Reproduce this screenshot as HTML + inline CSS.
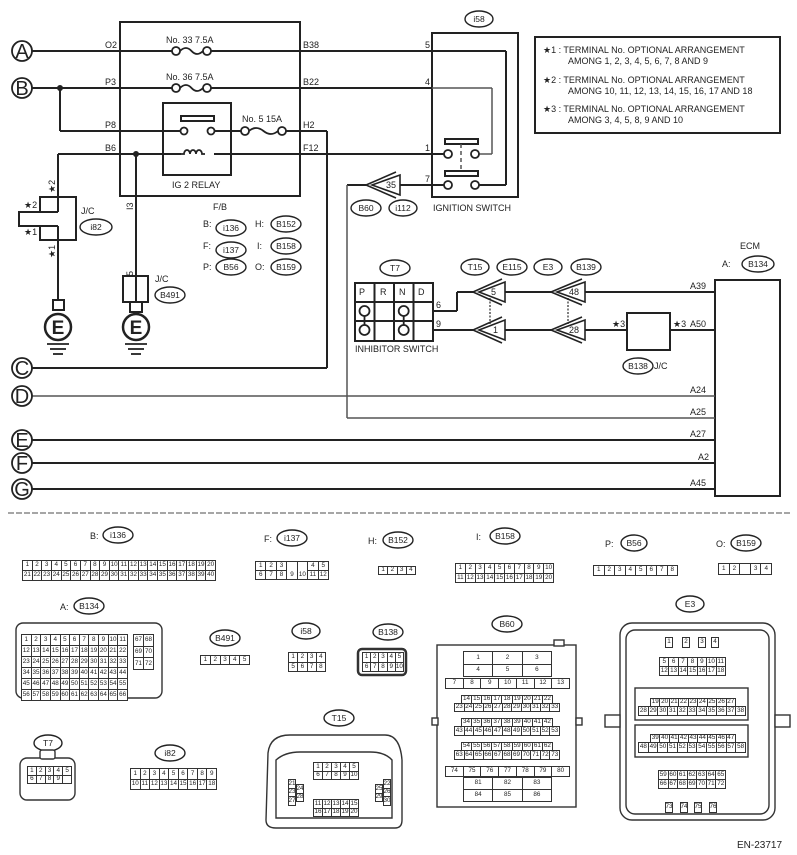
<!DOCTYPE html>
<html><head><meta charset="utf-8"><style>
body{margin:0;background:#fff}
#w{position:relative;width:797px;height:855px;overflow:hidden;font-family:"Liberation Sans",sans-serif;color:#222}
svg{position:absolute;left:0;top:0}
.g{position:absolute;display:grid;grid-auto-rows:1fr;border-left:1px solid #333;border-top:1px solid #333;box-sizing:border-box;background:#fff}
.g b{border-right:1px solid #333;border-bottom:1px solid #333;font-weight:normal;font-size:6.3px;display:flex;align-items:center;justify-content:center;overflow:hidden;line-height:1}
.t{position:absolute;font-size:9px}
</style></head><body><div id="w">
<svg width="797" height="855" viewBox="0 0 797 855" font-family="Liberation Sans, sans-serif" font-size="9" fill="#222">
<g stroke="#222" stroke-width="2" fill="none">
<line x1="32" y1="51" x2="172" y2="51"/><line x1="211" y1="51" x2="506" y2="51"/><line x1="506" y1="51" x2="506" y2="185"/><line x1="479" y1="185" x2="506" y2="185"/>
<line x1="32" y1="88" x2="172" y2="88"/><line x1="211" y1="88" x2="432" y2="88"/>
<line x1="60" y1="88" x2="60" y2="131"/><line x1="60" y1="131" x2="180" y2="131"/>
<line x1="215" y1="131" x2="241" y2="131"/><line x1="286" y1="131" x2="327" y2="131"/><line x1="327" y1="131" x2="327" y2="368"/><line x1="32" y1="368" x2="327" y2="368"/>
<line x1="58" y1="154" x2="181" y2="154"/><line x1="214" y1="154" x2="444" y2="154"/>
<line x1="58" y1="154" x2="58" y2="197"/><line x1="58" y1="240" x2="58" y2="300"/>
<line x1="136" y1="154" x2="136" y2="302"/>
<line x1="347" y1="185" x2="366" y2="185"/><line x1="400" y1="185" x2="444" y2="185"/>
<rect x="120" y="22" width="180" height="174"/>
<rect x="163" y="103" width="68" height="72"/>
<rect x="181" y="116" width="33" height="5"/>
<rect x="432" y="33" width="86" height="164"/>
<rect x="445" y="139" width="33" height="5"/><rect x="445" y="171" width="33" height="5"/>
<rect x="535" y="37" width="245" height="96"/>
<rect x="715" y="280" width="65" height="216"/>
<line x1="715" y1="292" x2="585" y2="292"/><line x1="553" y1="292" x2="505" y2="292"/>
<line x1="475" y1="292" x2="457" y2="292"/><line x1="457" y1="292" x2="457" y2="311"/><line x1="457" y1="311" x2="433" y2="311"/>
<line x1="715" y1="330" x2="670" y2="330"/><line x1="627" y1="330" x2="585" y2="330"/><line x1="553" y1="330" x2="505" y2="330"/><line x1="475" y1="330" x2="433" y2="330"/>
<rect x="627" y="313" width="43" height="37"/>
<line x1="32" y1="440" x2="715" y2="440"/><line x1="32" y1="463" x2="715" y2="463"/><line x1="32" y1="489" x2="715" y2="489"/>
<rect x="355" y="283" width="78" height="58"/>
<line x1="355" y1="302" x2="433" y2="302"/><line x1="355" y1="321" x2="433" y2="321"/>
<line x1="374.5" y1="283" x2="374.5" y2="341"/><line x1="394" y1="283" x2="394" y2="341"/><line x1="413.5" y1="283" x2="413.5" y2="341"/>
<path d="M40 197H76V240H40V226H19V212H40Z"/><line x1="40" y1="212" x2="58" y2="212"/><line x1="40" y1="226" x2="58" y2="226"/><line x1="58" y1="197" x2="58" y2="212"/><line x1="58" y1="226" x2="58" y2="240"/>
<rect x="53" y="300" width="11" height="10"/>
<rect x="123" y="276" width="25" height="26"/><rect x="130" y="302" width="12" height="10"/>
</g>
<g stroke="#555" stroke-width="1.5" fill="none">
<line x1="432" y1="88" x2="492" y2="88"/><line x1="492" y1="88" x2="492" y2="154"/><line x1="479" y1="154" x2="492" y2="154"/>
<line x1="347" y1="185" x2="347" y2="418"/><line x1="347" y1="418" x2="715" y2="418"/>
<line x1="32" y1="396" x2="715" y2="396"/>
<line x1="461" y1="144" x2="461" y2="171" stroke-dasharray="4,3"/>
<line x1="490" y1="298" x2="490" y2="324" stroke-dasharray="2,1.5"/><line x1="568" y1="298" x2="568" y2="324" stroke-dasharray="2,1.5"/>
<line x1="8" y1="513" x2="790" y2="513" stroke="#888" stroke-width="1.5" stroke-dasharray="6,2"/>
</g>
<g stroke="#222" stroke-width="1.8" fill="#fff">
<circle cx="176" cy="51" r="4"/><circle cx="207" cy="51" r="4"/><path d="M180 51Q186 45 191.5 51T203 51" fill="none"/>
<circle cx="176" cy="88" r="4"/><circle cx="207" cy="88" r="4"/><path d="M180 88Q186 82 191.5 88T203 88" fill="none"/>
<circle cx="245" cy="131" r="4"/><circle cx="282" cy="131" r="4"/><path d="M249 131Q256 125 263.5 131T278 131" fill="none"/>
<circle cx="184" cy="131" r="3.5"/><circle cx="211" cy="131" r="3.5"/>
<path d="M181 154h3a3 4 0 0 1 6 0a3 4 0 0 1 6 0a3 4 0 0 1 6 0h3" fill="none"/>
<circle cx="448" cy="154" r="4"/><circle cx="475" cy="154" r="4"/><circle cx="448" cy="185" r="4"/><circle cx="475" cy="185" r="4"/>
<circle cx="364.5" cy="311" r="5"/><circle cx="364.5" cy="330" r="5"/><circle cx="403.7" cy="311" r="5"/><circle cx="403.7" cy="330" r="5"/>
<circle cx="22" cy="51" r="10"/><circle cx="22" cy="88" r="10"/><circle cx="22" cy="368" r="10"/><circle cx="22" cy="396" r="10"/><circle cx="22" cy="440" r="10"/><circle cx="22" cy="463" r="10"/><circle cx="22" cy="489" r="10"/>
<circle cx="58" cy="327" r="13" stroke-width="2.5"/><circle cx="136" cy="327" r="13" stroke-width="2.5"/>
</g>
<g stroke="#222" stroke-width="1.8"><line x1="364.5" y1="316" x2="364.5" y2="325"/><line x1="403.7" y1="316" x2="403.7" y2="325"/>
<line x1="47" y1="344" x2="69" y2="344"/><line x1="50" y1="349" x2="66" y2="349"/><line x1="53" y1="354" x2="63" y2="354"/>
<line x1="125" y1="344" x2="147" y2="344"/><line x1="128" y1="349" x2="144" y2="349"/><line x1="131" y1="354" x2="141" y2="354"/></g>
<g stroke="#222" stroke-width="1.6" fill="#fff">
<polygon points="372,185 400,175 400,195"/><polyline points="396,172 366,185 396,198" fill="none"/>
<polygon points="479,292 505,282 505,302"/><polyline points="502,279 473,292 502,305" fill="none"/>
<polygon points="479,330 505,320 505,340"/><polyline points="502,317 473,330 502,343" fill="none"/>
<polygon points="557,292 585,282 585,302"/><polyline points="582,279 551,292 582,305" fill="none"/>
<polygon points="557,330 585,320 585,340"/><polyline points="582,317 551,330 582,343" fill="none"/>
</g>
<g fill="#222"><circle cx="60" cy="88" r="3"/><circle cx="136" cy="154" r="3"/></g>
<g stroke="#222" stroke-width="1.4" fill="#fff">
<ellipse cx="479" cy="19" rx="14" ry="8"/><ellipse cx="366" cy="208" rx="15" ry="8"/><ellipse cx="403" cy="208" rx="14" ry="8"/>
<ellipse cx="96" cy="227" rx="16" ry="8"/><ellipse cx="231" cy="228" rx="15" ry="8"/><ellipse cx="231" cy="250" rx="15" ry="8"/><ellipse cx="231" cy="267" rx="15" ry="8"/>
<ellipse cx="286" cy="224" rx="15" ry="8"/><ellipse cx="286" cy="246" rx="15" ry="8"/><ellipse cx="286" cy="267" rx="15" ry="8"/>
<ellipse cx="170" cy="295" rx="15" ry="8"/><ellipse cx="395" cy="268" rx="15" ry="8"/><ellipse cx="475" cy="267" rx="14" ry="8"/><ellipse cx="512" cy="267" rx="15" ry="8"/>
<ellipse cx="548" cy="267" rx="14" ry="8"/><ellipse cx="586" cy="267" rx="15" ry="8"/><ellipse cx="758" cy="264" rx="16" ry="8"/><ellipse cx="638" cy="366" rx="15" ry="8"/>
<ellipse cx="118" cy="535" rx="15" ry="8"/><ellipse cx="292" cy="538" rx="15" ry="8"/><ellipse cx="398" cy="540" rx="15" ry="8"/><ellipse cx="505" cy="536" rx="15" ry="8"/><ellipse cx="634" cy="543" rx="13" ry="8"/><ellipse cx="746" cy="543" rx="15" ry="8"/>
<ellipse cx="89" cy="606" rx="15" ry="8"/><ellipse cx="225" cy="638" rx="15" ry="8"/><ellipse cx="306" cy="631" rx="14" ry="8"/><ellipse cx="388" cy="632" rx="15" ry="8"/><ellipse cx="507" cy="624" rx="15" ry="8"/><ellipse cx="690" cy="604" rx="14" ry="8"/>
<ellipse cx="48" cy="743" rx="14" ry="8"/><ellipse cx="170" cy="753" rx="15" ry="8"/><ellipse cx="339" cy="718" rx="15" ry="8"/>
</g>
<g stroke="#333" stroke-width="1.4" fill="#fff">
<rect x="16" y="623" width="146" height="75" rx="7"/>
<rect x="358" y="649" width="48" height="26" rx="4" stroke-width="2.5"/>
<rect x="20" y="758" width="55" height="42" rx="7"/>
<rect x="40" y="750" width="15" height="9" rx="2"/>
<path d="M268 753Q270 735 290 735H385Q400 735 402 760V820Q402 828 395 828H276Q266 828 266 820Z"/>
<path d="M276 760Q285 752 300 752H370Q385 752 392 760V818H276Z" fill="none"/>
<rect x="437" y="645" width="139" height="162"/>
<rect x="554" y="640" width="10" height="6"/><rect x="432" y="718" width="6" height="7"/><rect x="576" y="718" width="6" height="7"/>
<rect x="620" y="623" width="155" height="197" rx="12"/>
<rect x="626" y="630" width="143" height="184" rx="9" fill="none"/>
<rect x="605" y="715" width="15" height="12"/><rect x="775" y="715" width="15" height="12"/>
<rect x="635" y="688" width="113" height="32" fill="none"/><rect x="635" y="725" width="113" height="32" fill="none"/>
</g>
<g font-size="20" text-anchor="middle" fill="#222"><text x="22" y="58">A</text><text x="22" y="95">B</text><text x="22" y="375">C</text><text x="22" y="403">D</text><text x="22" y="447">E</text><text x="22" y="470">F</text><text x="22" y="496">G</text></g>
<g font-size="19" font-weight="bold" text-anchor="middle"><text x="58" y="334">E</text><text x="136" y="334">E</text></g>
<g font-size="9">
<text x="105" y="48">O2</text><text x="105" y="85">P3</text><text x="105" y="128">P8</text><text x="105" y="151">B6</text>
<text x="303" y="48">B38</text><text x="303" y="85">B22</text><text x="303" y="128">H2</text><text x="303" y="151">F12</text>
<text x="166" y="43">No. 33  7.5A</text><text x="166" y="80">No. 36  7.5A</text><text x="242" y="122">No. 5  15A</text>
<text x="172" y="188">IG 2 RELAY</text>
<text x="425" y="48">5</text><text x="425" y="85">4</text><text x="425" y="151">1</text><text x="425" y="182">7</text>
<text x="433" y="211">IGNITION SWITCH</text>
<text x="213" y="210">F/B</text>
<text x="203" y="227">B:</text><text x="255" y="227">H:</text><text x="203" y="249">F:</text><text x="257" y="249">I:</text><text x="203" y="270">P:</text><text x="255" y="270">O:</text>
<text x="155" y="282">J/C</text><text x="81" y="214">J/C</text>
<text x="436" y="308">6</text><text x="436" y="327">9</text>
<text x="355" y="352">INHIBITOR SWITCH</text>
<text x="740" y="249">ECM</text><text x="722" y="267">A:</text>
<text x="654" y="369">J/C</text>
<text x="690" y="289">A39</text><text x="690" y="327">A50</text><text x="690" y="393">A24</text><text x="690" y="415">A25</text><text x="690" y="437">A27</text><text x="698" y="460">A2</text><text x="690" y="486">A45</text>
<text x="612" y="327">★3</text><text x="673" y="327">★3</text>
<text x="24" y="208">★2</text><text x="24" y="235">★1</text>
<text x="543" y="53">★1  : TERMINAL No. OPTIONAL ARRANGEMENT</text><text x="568" y="64">AMONG 1, 2, 3, 4, 5, 6, 7, 8 AND 9</text>
<text x="543" y="83">★2  : TERMINAL No. OPTIONAL ARRANGEMENT</text><text x="568" y="94">AMONG 10, 11, 12, 13, 14, 15, 16, 17 AND 18</text>
<text x="543" y="112">★3  : TERMINAL No. OPTIONAL ARRANGEMENT</text><text x="568" y="123">AMONG 3, 4, 5, 8, 9 AND 10</text>
<text x="359" y="295">P</text><text x="380" y="295">R</text><text x="399" y="295">N</text><text x="418" y="295">D</text>
<text x="386" y="188">35</text><text x="491" y="295">5</text><text x="493" y="333">1</text><text x="569" y="295">48</text><text x="569" y="333">28</text>
<text x="90" y="539">B:</text><text x="264" y="542">F:</text><text x="368" y="544">H:</text><text x="476" y="540">I:</text><text x="605" y="547">P:</text><text x="716" y="547">O:</text><text x="60" y="610">A:</text>
<text x="737" y="848" font-size="10">EN-23717</text>
</g>
<g font-size="9"><text transform="translate(55,193) rotate(-90)">★2</text><text transform="translate(55,258) rotate(-90)">★1</text><text transform="translate(133,210) rotate(-90)">I3</text><text transform="translate(133,276) rotate(-90)">5</text></g>
<g font-size="8.5" text-anchor="middle">
<text x="479" y="22">i58</text><text x="366" y="211">B60</text><text x="403" y="211">i112</text><text x="96" y="230">i82</text>
<text x="231" y="231">i136</text><text x="231" y="253">i137</text><text x="231" y="270">B56</text><text x="286" y="227">B152</text><text x="286" y="249">B158</text><text x="286" y="270">B159</text>
<text x="170" y="298">B491</text><text x="395" y="271">T7</text><text x="475" y="270">T15</text><text x="512" y="270">E115</text><text x="548" y="270">E3</text><text x="586" y="270">B139</text><text x="758" y="267">B134</text><text x="638" y="369">B138</text>
<text x="118" y="538">i136</text><text x="292" y="541">i137</text><text x="398" y="543">B152</text><text x="505" y="539">B158</text><text x="634" y="546">B56</text><text x="746" y="546">B159</text>
<text x="89" y="609">B134</text><text x="225" y="641">B491</text><text x="306" y="634">i58</text><text x="388" y="635">B138</text><text x="507" y="627">B60</text><text x="690" y="607">E3</text>
<text x="48" y="746">T7</text><text x="170" y="756">i82</text><text x="339" y="721">T15</text>
</g>
</svg>

<div class="g" style="left:22px;top:560px;width:194px;height:21px;grid-template-columns:repeat(20,1fr)"><b>1</b><b>2</b><b>3</b><b>4</b><b>5</b><b>6</b><b>7</b><b>8</b><b>9</b><b>10</b><b>11</b><b>12</b><b>13</b><b>14</b><b>15</b><b>16</b><b>17</b><b>18</b><b>19</b><b>20</b><b>21</b><b>22</b><b>23</b><b>24</b><b>25</b><b>26</b><b>27</b><b>28</b><b>29</b><b>30</b><b>31</b><b>32</b><b>33</b><b>34</b><b>35</b><b>36</b><b>37</b><b>38</b><b>39</b><b>40</b></div>

<div class="g" style="left:255px;top:561px;width:74px;height:19px;grid-template-columns:repeat(7,1fr)"><b>1</b><b>2</b><b>3</b><b style="border-bottom:0"></b><b style="border-bottom:0"></b><b>4</b><b>5</b><b>6</b><b>7</b><b>8</b><b>9</b><b>10</b><b>11</b><b>12</b></div>
<div class="g" style="left:378px;top:566px;width:38px;height:9px;grid-template-columns:repeat(4,1fr)"><b>1</b><b>2</b><b>3</b><b>4</b></div>
<div class="g" style="left:455px;top:563px;width:99px;height:20px;grid-template-columns:repeat(10,1fr)"><b>1</b><b>2</b><b>3</b><b>4</b><b>5</b><b>6</b><b>7</b><b>8</b><b>9</b><b>10</b><b>11</b><b>12</b><b>13</b><b>14</b><b>15</b><b>16</b><b>17</b><b>18</b><b>19</b><b>20</b></div>
<div class="g" style="left:593px;top:565px;width:85px;height:11px;grid-template-columns:repeat(8,1fr)"><b>1</b><b>2</b><b>3</b><b>4</b><b>5</b><b>6</b><b>7</b><b>8</b></div>
<div class="g" style="left:718px;top:563px;width:54px;height:12px;grid-template-columns:repeat(5,1fr)"><b>1</b><b>2</b><b></b><b>3</b><b>4</b></div>

<div class="g" style="left:21px;top:634px;width:107px;height:67px;grid-template-columns:repeat(11,1fr)"><b>1</b><b>2</b><b>3</b><b>4</b><b>5</b><b>6</b><b>7</b><b>8</b><b>9</b><b>10</b><b>11</b><b>12</b><b>13</b><b>14</b><b>15</b><b>16</b><b>17</b><b>18</b><b>19</b><b>20</b><b>21</b><b>22</b><b>23</b><b>24</b><b>25</b><b>26</b><b>27</b><b>28</b><b>29</b><b>30</b><b>31</b><b>32</b><b>33</b><b>34</b><b>35</b><b>36</b><b>37</b><b>38</b><b>39</b><b>40</b><b>41</b><b>42</b><b>43</b><b>44</b><b>45</b><b>46</b><b>47</b><b>48</b><b>49</b><b>50</b><b>51</b><b>52</b><b>53</b><b>54</b><b>55</b><b>56</b><b>57</b><b>58</b><b>59</b><b>60</b><b>61</b><b>62</b><b>63</b><b>64</b><b>65</b><b>66</b></div>
<div class="g" style="left:133px;top:634px;width:21px;height:36px;grid-template-columns:repeat(2,1fr)"><b>67</b><b>68</b><b>69</b><b>70</b><b>71</b><b>72</b></div>

<div class="g" style="left:200px;top:655px;width:50px;height:10px;grid-template-columns:repeat(5,1fr)"><b>1</b><b>2</b><b>3</b><b>4</b><b>5</b></div>
<div class="g" style="left:288px;top:652px;width:38px;height:20px;grid-template-columns:repeat(4,1fr)"><b>1</b><b>2</b><b>3</b><b>4</b><b>5</b><b>6</b><b>7</b><b>8</b></div>
<div class="g" style="left:362px;top:652px;width:42px;height:20px;grid-template-columns:repeat(5,1fr)"><b>1</b><b>2</b><b>3</b><b>4</b><b>5</b><b>6</b><b>7</b><b>8</b><b>9</b><b>10</b></div>

<div class="g" style="left:27px;top:766px;width:45px;height:18px;grid-template-columns:repeat(5,1fr)"><b>1</b><b>2</b><b>3</b><b>4</b><b>5</b><b>6</b><b>7</b><b>8</b><b>9</b><b></b></div>
<div class="g" style="left:130px;top:768px;width:87px;height:22px;grid-template-columns:repeat(9,1fr)"><b>1</b><b>2</b><b>3</b><b>4</b><b>5</b><b>6</b><b>7</b><b>8</b><b>9</b><b>10</b><b>11</b><b>12</b><b>13</b><b>14</b><b>15</b><b>16</b><b>17</b><b>18</b></div>

<div class="g" style="left:313px;top:762px;width:46px;height:18px;grid-template-columns:repeat(5,1fr)"><b>1</b><b>2</b><b>3</b><b>4</b><b>5</b><b>6</b><b>7</b><b>8</b><b>9</b><b>10</b></div>
<div class="g" style="left:313px;top:799px;width:46px;height:18px;grid-template-columns:repeat(5,1fr)"><b>11</b><b>12</b><b>13</b><b>14</b><b>15</b><b>16</b><b>17</b><b>18</b><b>19</b><b>20</b></div>
<div class="g" style="left:288px;top:779px;width:8px;height:27px;grid-template-columns:1fr"><b>21</b><b>23</b><b>27</b></div>
<div class="g" style="left:296px;top:784px;width:8px;height:18px;grid-template-columns:1fr"><b>24</b><b>28</b></div>
<div class="g" style="left:375px;top:784px;width:8px;height:18px;grid-template-columns:1fr"><b>25</b><b>29</b></div>
<div class="g" style="left:383px;top:779px;width:8px;height:27px;grid-template-columns:1fr"><b>22</b><b>26</b><b>30</b></div>

<div class="g" style="left:463px;top:651px;width:89px;height:26px;grid-template-columns:repeat(3,1fr)"><b>1</b><b>2</b><b>3</b><b>4</b><b>5</b><b>6</b></div>
<div class="g" style="left:445px;top:678px;width:125px;height:11px;grid-template-columns:repeat(7,1fr)"><b>7</b><b>8</b><b>9</b><b>10</b><b>11</b><b>12</b><b>13</b></div>
<div class="g" style="left:461px;top:695px;width:92px;height:9px;grid-template-columns:repeat(9,1fr)"><b>14</b><b>15</b><b>16</b><b>17</b><b>18</b><b>19</b><b>20</b><b>21</b><b>22</b></div>
<div class="g" style="left:454px;top:703px;width:106px;height:9px;grid-template-columns:repeat(11,1fr)"><b>23</b><b>24</b><b>25</b><b>26</b><b>27</b><b>28</b><b>29</b><b>30</b><b>31</b><b>32</b><b>33</b></div>
<div class="g" style="left:461px;top:718px;width:92px;height:9px;grid-template-columns:repeat(9,1fr)"><b>34</b><b>35</b><b>36</b><b>37</b><b>38</b><b>39</b><b>40</b><b>41</b><b>42</b></div>
<div class="g" style="left:454px;top:726px;width:106px;height:10px;grid-template-columns:repeat(11,1fr)"><b>43</b><b>44</b><b>45</b><b>46</b><b>47</b><b>48</b><b>49</b><b>50</b><b>51</b><b>52</b><b>53</b></div>
<div class="g" style="left:461px;top:742px;width:92px;height:9px;grid-template-columns:repeat(9,1fr)"><b>54</b><b>55</b><b>56</b><b>57</b><b>58</b><b>59</b><b>60</b><b>61</b><b>62</b></div>
<div class="g" style="left:454px;top:750px;width:106px;height:10px;grid-template-columns:repeat(11,1fr)"><b>63</b><b>64</b><b>65</b><b>66</b><b>67</b><b>68</b><b>69</b><b>70</b><b>71</b><b>72</b><b>73</b></div>
<div class="g" style="left:445px;top:766px;width:125px;height:11px;grid-template-columns:repeat(7,1fr)"><b>74</b><b>75</b><b>76</b><b>77</b><b>78</b><b>79</b><b>80</b></div>
<div class="g" style="left:463px;top:777px;width:89px;height:25px;grid-template-columns:repeat(3,1fr)"><b>81</b><b>82</b><b>83</b><b>84</b><b>85</b><b>86</b></div>

<div class="g" style="left:665px;top:637px;width:8px;height:11px;grid-template-columns:1fr"><b>1</b></div>
<div class="g" style="left:682px;top:637px;width:8px;height:11px;grid-template-columns:1fr"><b>2</b></div>
<div class="g" style="left:698px;top:637px;width:8px;height:11px;grid-template-columns:1fr"><b>3</b></div>
<div class="g" style="left:711px;top:637px;width:8px;height:11px;grid-template-columns:1fr"><b>4</b></div>
<div class="g" style="left:659px;top:657px;width:67px;height:19px;grid-template-columns:repeat(7,1fr)"><b>5</b><b>6</b><b>7</b><b>8</b><b>9</b><b>10</b><b>11</b><b>12</b><b>13</b><b>14</b><b>15</b><b>16</b><b>17</b><b>18</b></div>
<div class="g" style="left:650px;top:698px;width:86px;height:9px;grid-template-columns:repeat(9,1fr)"><b>19</b><b>20</b><b>21</b><b>22</b><b>23</b><b>24</b><b>25</b><b>26</b><b>27</b></div>
<div class="g" style="left:638px;top:706px;width:108px;height:10px;grid-template-columns:repeat(11,1fr)"><b>28</b><b>29</b><b>30</b><b>31</b><b>32</b><b>33</b><b>34</b><b>35</b><b>36</b><b>37</b><b>38</b></div>
<div class="g" style="left:650px;top:734px;width:86px;height:9px;grid-template-columns:repeat(9,1fr)"><b>39</b><b>40</b><b>41</b><b>42</b><b>43</b><b>44</b><b>45</b><b>46</b><b>47</b></div>
<div class="g" style="left:638px;top:742px;width:108px;height:11px;grid-template-columns:repeat(11,1fr)"><b>48</b><b>49</b><b>50</b><b>51</b><b>52</b><b>53</b><b>54</b><b>55</b><b>56</b><b>57</b><b>58</b></div>
<div class="g" style="left:658px;top:770px;width:68px;height:19px;grid-template-columns:repeat(7,1fr)"><b>59</b><b>60</b><b>61</b><b>62</b><b>63</b><b>64</b><b>65</b><b>66</b><b>67</b><b>68</b><b>69</b><b>70</b><b>71</b><b>72</b></div>
<div class="g" style="left:665px;top:802px;width:8px;height:11px;grid-template-columns:1fr"><b>73</b></div>
<div class="g" style="left:680px;top:802px;width:8px;height:11px;grid-template-columns:1fr"><b>74</b></div>
<div class="g" style="left:694px;top:802px;width:8px;height:11px;grid-template-columns:1fr"><b>75</b></div>
<div class="g" style="left:709px;top:802px;width:8px;height:11px;grid-template-columns:1fr"><b>76</b></div>
</div></body></html>
